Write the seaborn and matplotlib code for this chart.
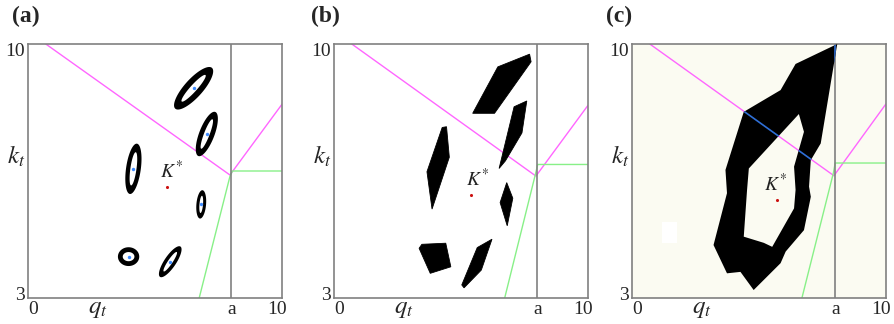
import numpy as np
import matplotlib
matplotlib.use("Agg")
import matplotlib.pyplot as plt
from matplotlib.path import Path
from matplotlib.patches import PathPatch, Rectangle
from matplotlib.transforms import ScaledTranslation
import seaborn as sns

sns.set_theme(style="white")
plt.rcParams["font.family"] = ["Liberation Serif", "DejaVu Serif"]
plt.rcParams["mathtext.fontset"] = "stix"

# ---- axes description ----
A = 8.0
x_ticks = [0, A, 10]
x_ticklabels = ["0", "a", "10"]
y_ticks = [3, 10]
y_ticklabels = ["3", "10"]
panel_names = ["(a)", "(b)", "(c)"]

# ---- boundary curves per panel ----
magenta_x = [0.7, 7.95, 10.0]
magenta_y = [[10.0, 6.39, 8.34], [10.0, 6.36, 8.31], [10.0, 6.37, 8.35]]
green_x = [[6.74, 7.95, 8.05, 10.0], [6.72, 7.94, 8.02, 10.0], [6.69, 7.93, 8.00, 10.0]]
green_y = [[3.0, 6.35, 6.50, 6.50], [3.0, 6.44, 6.68, 6.68], [3.0, 6.45, 6.72, 6.72]]

# equilibrium point K*
kstar_x = [5.46, 5.40, 5.69]
kstar_y = [6.05, 5.83, 5.70]

# ---- panel (a): ring-shaped regions ----
ring_cx = [6.52, 7.04, 4.15, 6.82, 3.96, 5.60]
ring_cy = [8.78, 7.52, 6.56, 5.58, 4.14, 4.00]
ring_outer_major = [0.108, 0.093, 0.100, 0.056, 0.042, 0.072]
ring_outer_minor = [0.036, 0.030, 0.029, 0.019, 0.037, 0.023]
ring_inner_major = [0.070, 0.062, 0.066, 0.034, 0.023, 0.046]
ring_inner_minor = [0.013, 0.011, 0.012, 0.007, 0.018, 0.009]
ring_angle = [48, 69, 82, 85, 0, 56]

# ---- panel (b): polygonal regions ----
regions_b = [
    [(5.46, 8.09), (6.45, 9.37), (7.70, 9.72), (7.76, 9.51), (6.32, 8.09)],
    [(6.50, 6.57), (7.09, 8.27), (7.59, 8.43), (7.40, 7.55), (6.75, 6.78)],
    [(3.66, 6.48), (4.26, 7.70), (4.43, 7.72), (4.54, 6.88), (3.86, 5.45)],
    [(6.54, 5.63), (6.80, 6.18), (7.04, 5.75), (6.82, 4.99)],
    [(3.35, 4.37), (3.46, 4.48), (4.40, 4.51), (4.60, 3.86), (3.79, 3.68)],
    [(5.03, 3.36), (5.64, 4.39), (6.22, 4.62), (5.80, 3.77), (5.12, 3.28)],
]

# ---- panel (c): one region with a hole ----
outer_c = [(8.08, 10.0), (7.43, 7.26), (7.04, 6.80), (6.97, 6.07), (7.04, 5.79),
           (6.77, 4.87), (6.05, 4.28), (5.85, 3.96), (4.79, 3.22), (4.27, 3.72),
           (3.74, 3.68), (3.21, 4.46), (3.74, 5.89), (3.68, 6.53), (4.40, 8.13),
           (5.85, 8.73), (6.44, 9.45)]
hole_c = [(6.57, 8.07), (6.77, 7.58), (6.38, 6.62), (6.44, 5.98), (6.38, 5.47),
          (5.52, 4.41), (5.19, 4.52), (4.40, 4.69), (4.53, 5.98), (4.60, 6.57)]

MAGENTA = "#ff66ff"
GREEN = "#88f088"
GRAY = "#808080"
BLUE_DOT = "#3f8cff"
BLUE_LINE = "#2f6fd6"


def loop_codes(n):
    # n vertices, the last one repeating the first
    return [Path.MOVETO] + [Path.LINETO] * (n - 2) + [Path.CLOSEPOLY]


def ring_path(cx, cy, a_o, b_o, a_i, b_i, ang):
    t = np.linspace(0, 2 * np.pi, 120, endpoint=False)
    th = np.deg2rad(ang)
    u0, v0 = cx / 10.0, (cy - 3.0) / 7.0

    def loop(a, b, tt):
        u = u0 + a * np.cos(tt) * np.cos(th) - b * np.sin(tt) * np.sin(th)
        v = v0 + a * np.cos(tt) * np.sin(th) + b * np.sin(tt) * np.cos(th)
        pts = np.column_stack([10.0 * u, 3.0 + 7.0 * v])
        return np.vstack([pts, pts[:1]])

    outer = loop(a_o, b_o, t)
    inner = loop(a_i, b_i, t[::-1])
    verts = np.vstack([outer, inner])
    codes = loop_codes(len(outer)) + loop_codes(len(inner))
    return Path(verts, codes)


def poly_path(loops):
    verts, codes = [], []
    for lp in loops:
        pts = list(lp) + [lp[0]]
        verts += pts
        codes += loop_codes(len(pts))
    return Path(np.array(verts), codes)


def nudge(label, dx_px, dy_px):
    label.set_transform(label.get_transform()
                        + ScaledTranslation(dx_px / 100, dy_px / 100, fig.dpi_scale_trans))


fig = plt.figure(figsize=(8.94, 3.24), dpi=100)
lefts = [28 / 894, 334 / 894, 632 / 894]
label_x = [12 / 894, 311 / 894, 606 / 894]
kstar_text_dx = [5, 6, -1]

for i in range(3):
    ax = fig.add_axes([lefts[i], 26 / 324, 254 / 894, 254 / 324])
    if i == 2:
        ax.set_facecolor("#fbfbf2")
        ax.add_patch(Rectangle((1.17, 4.52), 0.60, 0.58, color="white", lw=0, zorder=1))

    # boundary lines
    sns.lineplot(x=magenta_x, y=magenta_y[i], sort=False, estimator=None,
                 color=MAGENTA, lw=1.0, ax=ax, zorder=2)
    sns.lineplot(x=green_x[i], y=green_y[i], sort=False, estimator=None,
                 color=GREEN, lw=1.0, ax=ax, zorder=2)
    sns.lineplot(x=[A, A], y=[3, 10], sort=False, estimator=None,
                 color=GRAY, lw=1.2, ax=ax, zorder=2)

    if i == 0:
        for k in range(len(ring_cx)):
            p = ring_path(ring_cx[k], ring_cy[k], ring_outer_major[k], ring_outer_minor[k],
                          ring_inner_major[k], ring_inner_minor[k], ring_angle[k])
            ax.add_patch(PathPatch(p, facecolor="black", edgecolor="none", zorder=3))
        sns.scatterplot(x=ring_cx, y=ring_cy, color=BLUE_DOT, s=6, linewidth=0,
                        ax=ax, zorder=4)
    elif i == 1:
        for reg in regions_b:
            ax.add_patch(PathPatch(poly_path([reg]), facecolor="black",
                                   edgecolor="black", lw=0.6, zorder=3))
    else:
        region = PathPatch(poly_path([outer_c, hole_c[::-1]]), facecolor="black",
                           edgecolor="none", zorder=3)
        ax.add_patch(region)
        # the boundaries inside the region are shown in blue
        for xs, ys in [(magenta_x, magenta_y[i]), ([A, A], [3, 10])]:
            sns.lineplot(x=xs, y=ys, sort=False, estimator=None, color=BLUE_LINE,
                         lw=1.2, ax=ax, zorder=3.5)
            ax.lines[-1].set_clip_path(region)

    # equilibrium point
    sns.scatterplot(x=[kstar_x[i]], y=[kstar_y[i]], color="#cc1111", s=5,
                    linewidth=0, ax=ax, zorder=5)
    ax.annotate(r"$K^{*}$", (kstar_x[i], kstar_y[i]), xytext=(kstar_text_dx[i], 5),
                textcoords="offset pixels", fontsize=14, ha="center", va="bottom",
                zorder=5, color="#222222")

    ax.set_xlim(0, 10)
    ax.set_ylim(3, 10)
    ax.set_xticks(x_ticks)
    ax.set_xticklabels(x_ticklabels, fontsize=14)
    ax.set_yticks(y_ticks)
    ax.set_yticklabels(y_ticklabels, fontsize=14)
    ax.tick_params(length=0, pad=2)
    ax.set_xlabel("")
    ax.set_ylabel("")
    for sp in ax.spines.values():
        sp.set_color(GRAY)
        sp.set_linewidth(1.2)

    # end labels sit inside the axis span
    xl = ax.get_xticklabels()
    nudge(xl[0], 5, 0)
    nudge(xl[-1], -5, 0)
    yl = ax.get_yticklabels()
    nudge(yl[0], 0, 5)
    nudge(yl[-1], 0, -6)

    ax.text(2.75, -0.06, r"$q_t$", transform=ax.get_xaxis_transform(),
            fontsize=18, ha="center", va="baseline")
    ax.text(-0.048, 6.9, r"$k_t$", transform=ax.get_yaxis_transform(),
            fontsize=18, ha="center", va="center")

    fig.text(label_x[i], 1 - 6 / 324, panel_names[i], fontsize=17,
             fontweight="bold", ha="left", va="top")

fig.savefig("out.png", dpi=100)
